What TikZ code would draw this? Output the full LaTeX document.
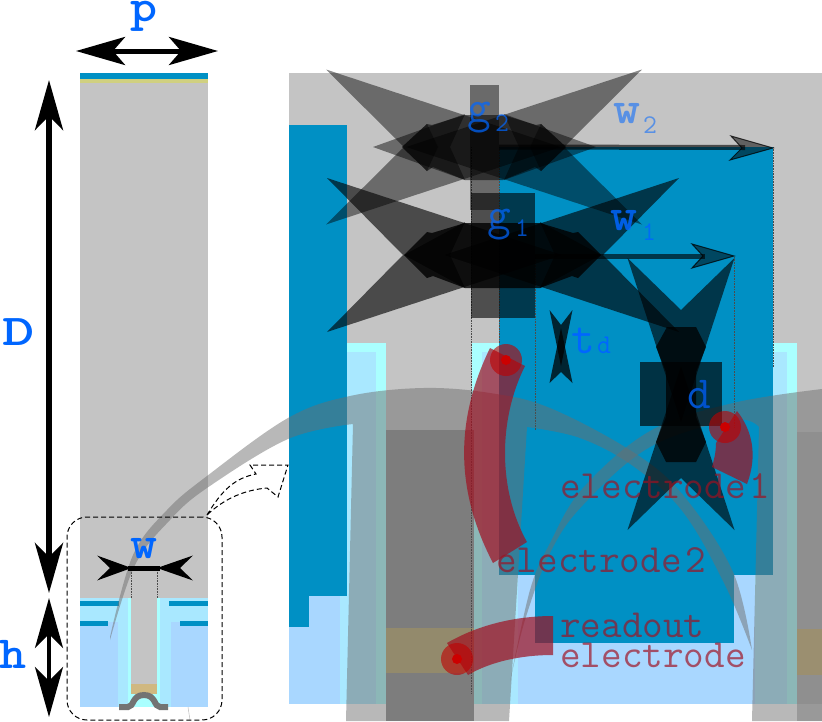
\documentclass[tikz,border=0pt]{standalone}
\usepackage{fontspec}
\usepackage{graphicx}
\usetikzlibrary{arrows.meta}
\definecolor{gbase}{HTML}{C4C4C4}
\definecolor{ablue}{HTML}{0090C4}
\definecolor{bright}{HTML}{AAFFFF}
\definecolor{midc}{HTML}{A9E8FF}
\definecolor{lightb}{HTML}{A9D7FF}
\definecolor{lblue}{HTML}{0066FF}
\definecolor{elred}{HTML}{A01020}
\definecolor{topyel}{HTML}{D0D080}
\definecolor{tanl}{HTML}{D0B880}
\definecolor{tanm}{HTML}{938A6C}
\definecolor{tanr}{HTML}{9B8F70}
\newcommand{\lab}[1]{\fontsize{#1pt}{#1pt}\selectfont\ttfamily}
% inward-pointing translucent arrow heads as polygons
\newcommand{\hh}[6]{\fill[#1] (#3,#2-#6) -- (#4,#2) -- (#3,#2+#6) -- (#5,#2) -- cycle;}
\newcommand{\vv}[6]{\fill[#1] (#2-#6,#3) -- (#2,#4) -- (#2+#6,#3) -- (#2,#5) -- cycle;}
\tikzset{
  x=1pt,y=-1pt,
  layer/.style={fill=#1,draw=none},
  blackarrow/.style n args={4}{line width=#1pt,
     >={Stealth[length=#2pt,width=#3pt,inset=#4pt]}},
  ghead/.style={fill=black,opacity=#1,draw=none},
  kite/.style={fill=black,opacity=0.42,draw=none},
  hull/.style={fill=black,opacity=#1,draw=none},
  dimrect/.style={fill=black,opacity=#1,draw=none},
  ghost/.style={fill=black!57,opacity=0.49,draw=none},
  redfill/.style={fill=elred,opacity=0.7,draw=none},
  dots/.style={densely dotted,line width=0.6pt,draw=black!70},
  dashline/.style={dash pattern=on 5pt off 3pt,line width=1pt},
  lb/.style={inner sep=0pt,anchor=base west},
  eltext/.style={lb,text=elred,text opacity=0.68}
}
\begin{document}
\begin{tikzpicture}
\useasboundingbox (0,0) rectangle (822,721);
% ---------- left panel
\fill[layer=gbase] (80,83) rectangle (208,598);
\fill[layer=ablue] (80,73) rectangle (208,79);
\fill[layer=topyel] (80,79) rectangle (208,83);
\fill[layer=midc] (80,598) rectangle (208,707);
\fill[layer=bright] (128,598) rectangle (160,707);
\fill[layer=lightb] (80,622) rectangle (118,707);
\fill[layer=lightb] (171,622) rectangle (208,707);
\fill[layer=gbase] (131,598) rectangle (157,684);
\fill[layer=tanl] (131,684) rectangle (157,694);
\fill[layer=ablue] (80,601) rectangle (119,606);
\fill[layer=ablue] (169,601) rectangle (208,606);
\fill[layer=ablue] (80,621) rectangle (108,626);
\fill[layer=ablue] (180,621) rectangle (208,626);
\draw[line width=6pt,draw=black!55] (119,707) -- (128,707) .. controls (134,707) and (132,695) .. (144,695) .. controls (156,695) and (154,707) .. (160,707) -- (168,707);
\coordinate (wtopl) at (131,570); \coordinate (wbotl) at (131,598);
\coordinate (wtopr) at (157,570); \coordinate (wbotr) at (157,598);
\draw[dots] (wtopl) -- (wbotl);
\draw[dots] (wtopr) -- (wbotr);
\draw[line width=0.5pt,draw=black!25] (188,707) -- (190,720);
% ---------- main panel base
\fill[layer=gbase] (289,73) rectangle (822,430);
\fill[layer=bright] (347,343) rectangle (386,704);
\fill[layer=bright] (472,343) rectangle (797,704);
\fill[layer=gbase] (386,343) rectangle (472,430);
\fill[layer=midc] (289,352) rectangle (376,704);
\fill[layer=midc] (482,352) rectangle (787,704);
\fill[layer=lightb] (289,422) rectangle (340,704);
\fill[layer=lightb] (518,422) rectangle (755,704);
\fill[layer=gbase] (797,343) rectangle (822,432);
\fill[layer=ablue] (289,125) rectangle (347,596);
\fill[layer=ablue] (289,596) rectangle (309,627);
\fill[layer=ablue] (499,147) rectangle (773,575);
\fill[layer=ablue] (535,193) rectangle (734,643);
% ---------- grey swooshes and pillars
\fill[ghost] (110,640) -- plot[smooth,tension=0.6] coordinates {(110,637) (133,555) (167,510) (207,476) (288,418) (350,396) (423,388) (490,393) (550,408) (633,452) (683,495) (733,572) (752,650)}
  -- plot[smooth,tension=0.6] coordinates {(752,650) (725,585) (683,512) (633,466) (580,438) (527,427)}
  -- (509,721) -- (346,721) -- (353,424)
  -- plot[smooth,tension=0.6] coordinates {(353,424) (288,439) (207,488) (170,520) (135,565) (110,640)} -- cycle;
\fill[ghost] plot[smooth,tension=0.6] coordinates {(510,682) (530,590) (550,543) (583,488) (650,431) (733,403) (822,389)}
  -- (822,721) -- (752,721) -- (759,427)
  -- plot[smooth,tension=0.6] coordinates {(759,427) (733,420) (650,447) (583,505) (550,553) (525,620) (510,682)} -- cycle;
\fill[layer={black!51}] (386,430) rectangle (474,721);
\fill[layer=tanm] (386,628) rectangle (474,673);
\fill[layer={black!44}] (797,432) rectangle (822,704);
\fill[layer={black!40}] (797,704) rectangle (822,721);
\fill[layer=tanr] (797,629) rectangle (822,675);
% ---------- dotted guides
\coordinate (da) at (471,147); \coordinate (db) at (471,693);
\draw[dots] (da) -- (db);
\coordinate (dc) at (499,147); \coordinate (dd) at (499,343);
\draw[dots] (dc) -- (dd);
\coordinate (de) at (535,255); \coordinate (df) at (535,430);
\draw[dots] (de) -- (df);
\coordinate (dg) at (734,257); \coordinate (dh) at (734,428);
\draw[dots] (dg) -- (dh);
\coordinate (di) at (773,147); \coordinate (dj) at (773,367);
\draw[dots] (di) -- (dj);
% ---------- translucent rects
\fill[dimrect=0.46] (470,85) rectangle (499,210);
\fill[dimrect=0.6] (471,193) rectangle (535,318);
\fill[dimrect=0.65] (640,362) rectangle (722,426);
% ---------- g2 marks
\hh{ghead=0.46}{147}{326}{561}{404}{77.5}
\hh{ghead=0.46}{147}{642}{406}{564}{77.5}
\hh{ghead=0.46}{147}{465}{373}{450}{33}
\hh{ghead=0.46}{147}{504}{596}{519}{33}
\fill[hull=0.55] (402,147) -- (427,124) -- (432,125) -- (465,115) -- (503,115) -- (536,125) -- (541,124) -- (566,147) -- (541,171) -- (535,167) -- (503,180) -- (465,180) -- (433,167) -- (427,171) -- cycle;
\fill[kite] (402,147) -- (427,124) -- (438,147) -- (427,171) -- cycle;
\fill[kite] (566,147) -- (541,124) -- (530,147) -- (541,171) -- cycle;
% ---------- g1 marks
\hh{ghead=0.62}{255}{327}{562}{403}{77}
\hh{ghead=0.62}{255}{679}{444}{603}{77}
\hh{ghead=0.6}{255}{465}{404}{450}{33}
\hh{ghead=0.6}{255}{540}{601}{555}{33}
\fill[hull=0.8] (404,255) -- (427,232) -- (432,233) -- (465,223) -- (540,223) -- (573,233) -- (578,232) -- (601,255) -- (578,278) -- (572,276) -- (540,288) -- (465,288) -- (433,276) -- (427,278) -- cycle;
% ---------- d marks
\vv{ghead=0.62}{681}{258}{422}{310}{53.5}
\vv{ghead=0.62}{681}{530}{366}{478}{53.5}
\fill[hull=0.75] (667,327) -- (696,327) -- (706,347) -- (696,372) -- (696,417) -- (706,442) -- (696,462) -- (666,462) -- (656,442) -- (666,417) -- (666,372) -- (656,347) -- cycle;
% ---------- td marks
\vv{ghead=0.75}{561}{310}{366}{325}{11.5}
\vv{ghead=0.75}{561}{383}{328}{372}{11.5}
% ---------- w arrows on main panel
\coordinate (w2a) at (499,147); \coordinate (w2n) at (745,147.5); \coordinate (w2b) at (773,148);
\draw[line width=5pt,draw=black,opacity=0.62,line cap=butt] (w2a) -- (w2n);
\draw[line width=1pt,fill=black,fill opacity=0.5,draw opacity=0.75] (w2b) -- (731,136) -- (742,148) -- (730,160) -- cycle;
\coordinate (w1a) at (535,256); \coordinate (w1n) at (705,256); \coordinate (w1b) at (734,256);
\draw[line width=5pt,draw=black,opacity=0.62,line cap=butt] (w1a) -- (w1n);
\draw[line width=1pt,fill=black,fill opacity=0.5,draw opacity=0.75] (w1b) -- (692,244) -- (703,256) -- (692,268) -- cycle;
% ---------- dimension arrows, left panel
\coordinate (pl) at (76,51); \coordinate (pr) at (218,51);
\draw[blackarrow={5}{49}{28}{12},<->] (pl) -- (pr);
\coordinate (dt) at (49,80); \coordinate (db2) at (49,593);
\draw[blackarrow={6}{50}{28}{14},<->] (dt) -- (db2);
\coordinate (ht) at (49,598); \coordinate (hb) at (49,717);
\draw[blackarrow={4}{50}{28}{14},<->] (ht) -- (hb);
\coordinate (wm1) at (128,568); \coordinate (wm2) at (160,568);
\draw[line width=5pt] (wm1) -- (wm2);
\hh{fill=black}{568}{97}{131.5}{110}{12.5}
\hh{fill=black}{568}{193}{157}{180}{12.5}
% ---------- dashed frame and dashed hollow arrow
\node[draw,dashline,rounded corners=20pt,minimum width=155pt,minimum height=203pt,inner sep=0pt] (frame) at (144.5,618.5) {};
\draw[dashline] (207,515) .. controls (222,490) and (235,478) .. (256,474) -- (250,465) -- (288,465) -- (278,497) -- (267,488) .. controls (245,490) and (225,498) .. (207,515);
% ---------- red electrodes
\fill[redfill] (490,348) -- (525,366) .. controls (498,420) and (498,490) .. (527,542) -- (493,563) .. controls (455,490) and (455,420) .. (490,348) -- cycle;
\fill[redfill] (447,643) .. controls (478,625) and (515,616) .. (553,616) -- (553,655) .. controls (520,655) and (490,662) .. (468,675) -- cycle;
\fill[redfill] (716,443) .. controls (716,452) and (714,460) .. (712,467) -- (747,484) .. controls (758,455) and (752,430) .. (737,411) -- cycle;
\fill[fill=red!75!black,opacity=0.6] (506,360) circle[radius=16];
\fill[fill=red!80!black] (506,360) circle[radius=5];
\fill[fill=red!75!black,opacity=0.6] (457,659) circle[radius=16];
\fill[fill=red!80!black] (457,659) circle[radius=5];
\fill[fill=red!75!black,opacity=0.6] (725,427) circle[radius=16];
\fill[fill=red!80!black] (725,427) circle[radius=5];
% ---------- labels
\node[lb,text=lblue] (lp) at (130,21) {\scalebox{1.12}[1]{\lab{46}\bfseries p}};
\node[lb,text=lblue] (lD) at (2,345) {\scalebox{1.4}[1]{\lab{44}\bfseries D}};
\node[lb,text=lblue] (lh) at (-1,668) {\scalebox{1.12}[1]{\lab{46}\bfseries h}};
\node[lb,text=lblue] (lw) at (130,558) {\scalebox{1.12}[1]{\lab{46}\bfseries w}};
\node[lb,text=lblue,text opacity=0.72] (lg2) at (467,122) {\lab{46}g};
\node[lb,text=lblue,text opacity=0.72] (lg2s) at (495,131) {\lab{27}2};
\node[lb,text=lblue,text opacity=0.72] (lg1) at (487,229) {\lab{46}g};
\node[lb,text=lblue,text opacity=0.72] (lg1s) at (515,236) {\lab{27}1};
\node[lb,text=lblue,text opacity=0.55] (lw2) at (613,123) {\scalebox{1.12}[1]{\lab{46}\bfseries w}};
\node[lb,text=lblue,text opacity=0.55] (lw2s) at (643,133) {\lab{27}2};
\node[lb,text=lblue,text opacity=0.85] (lw1) at (610,230) {\scalebox{1.12}[1]{\lab{46}\bfseries w}};
\node[lb,text=lblue,text opacity=0.85] (lw1s) at (642,240) {\lab{27}1};
\node[lb,text=lblue] (lt) at (571,353) {\lab{46}t};
\node[lb,text=lblue] (lts) at (597,353) {\lab{27}d};
\node[lb,text=lblue!80!black] (ld) at (687,408) {\lab{46}d};
\node[eltext] (e1) at (560,498) {\lab{40}electrode\kern4pt 1};
\node[eltext] (e2) at (496,572) {\lab{40}electrode\kern4pt 2};
\node[eltext] (e3) at (560,637) {\lab{40}readout};
\node[eltext] (e4) at (560,667) {\lab{40}electrode};
\end{tikzpicture}
\end{document}
